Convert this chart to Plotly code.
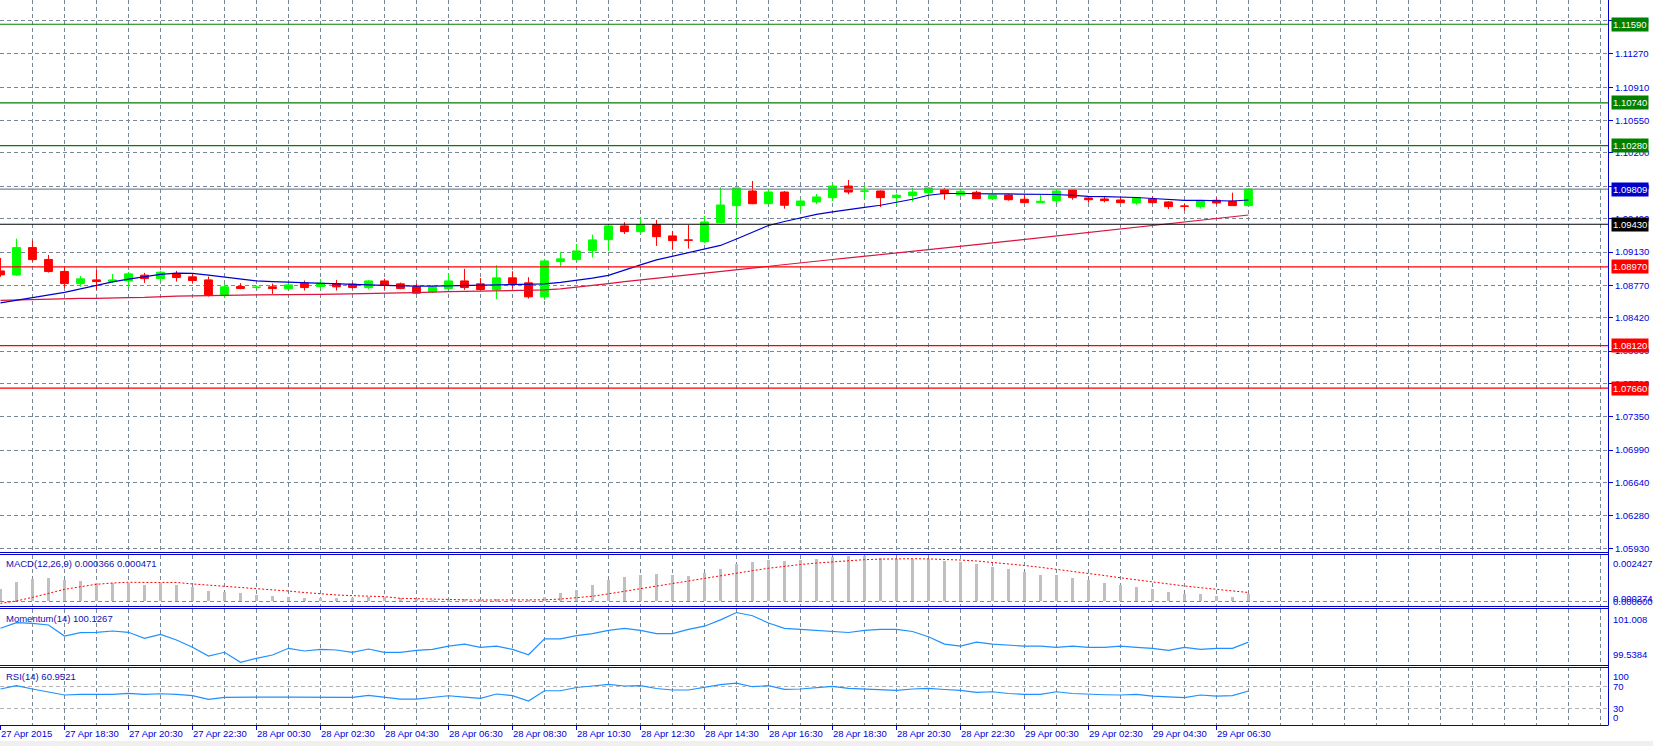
import plotly.graph_objects as go

# ---------------- data (EURUSD M30) ----------------
time_labels = ["27 Apr 2015", "27 Apr 18:30", "27 Apr 20:30", "27 Apr 22:30", "28 Apr 00:30",
               "28 Apr 02:30", "28 Apr 04:30", "28 Apr 06:30", "28 Apr 08:30", "28 Apr 10:30",
               "28 Apr 12:30", "28 Apr 14:30", "28 Apr 16:30", "28 Apr 18:30", "28 Apr 20:30",
               "28 Apr 22:30", "29 Apr 00:30", "29 Apr 02:30", "29 Apr 04:30", "29 Apr 06:30"]

open_ = [1.08926, 1.08883, 1.09178, 1.09050, 1.08920, 1.08789, 1.08829, 1.08811, 1.08818, 1.08880,
         1.08843, 1.08897, 1.08862, 1.08829, 1.08660, 1.08757, 1.08748, 1.08754, 1.08732, 1.08794,
         1.08757, 1.08789, 1.08783, 1.08746, 1.08818, 1.08786, 1.08754, 1.08700, 1.08735, 1.08818,
         1.08786, 1.08721, 1.08851, 1.08797, 1.08646, 1.09027, 1.09048, 1.09145, 1.09264, 1.09412,
         1.09350, 1.09426, 1.09304, 1.09261, 1.09242, 1.09446, 1.09631, 1.09789, 1.09652, 1.09778,
         1.09631, 1.09671, 1.09717, 1.09843, 1.09786, 1.09789, 1.09717, 1.09739, 1.09771, 1.09803,
         1.09746, 1.09775, 1.09706, 1.09746, 1.09700, 1.09663, 1.09685, 1.09800, 1.09714, 1.09703,
         1.09692, 1.09660, 1.09703, 1.09671, 1.09627, 1.09620, 1.09689, 1.09678, 1.09631]
high = [1.09066, 1.09275, 1.09253, 1.09099, 1.08962, 1.08872, 1.08937, 1.08894, 1.08915, 1.08905,
        1.08926, 1.08926, 1.08891, 1.08865, 1.08783, 1.08794, 1.08768, 1.08789, 1.08789, 1.08822,
        1.08840, 1.08829, 1.08800, 1.08829, 1.08843, 1.08800, 1.08786, 1.08772, 1.08894, 1.08948,
        1.08848, 1.08988, 1.08923, 1.08858, 1.09056, 1.09128, 1.09218, 1.09318, 1.09430, 1.09452,
        1.09498, 1.09476, 1.09358, 1.09422, 1.09520, 1.09829, 1.09825, 1.09897, 1.09800, 1.09789,
        1.09706, 1.09757, 1.09876, 1.09908, 1.09854, 1.09795, 1.09760, 1.09822, 1.09830, 1.09822,
        1.09803, 1.09792, 1.09750, 1.09754, 1.09749, 1.09749, 1.09808, 1.09803, 1.09732, 1.09725,
        1.09721, 1.09721, 1.09732, 1.09678, 1.09652, 1.09692, 1.09717, 1.09771, 1.09822]
low = [1.08862, 1.08872, 1.09027, 1.08908, 1.08740, 1.08757, 1.08721, 1.08794, 1.08754, 1.08797,
       1.08818, 1.08811, 1.08797, 1.08649, 1.08632, 1.08729, 1.08732, 1.08678, 1.08729, 1.08714,
       1.08732, 1.08714, 1.08735, 1.08729, 1.08729, 1.08729, 1.08678, 1.08686, 1.08721, 1.08721,
       1.08714, 1.08621, 1.08735, 1.08627, 1.08613, 1.08973, 1.09027, 1.09070, 1.09142, 1.09325,
       1.09325, 1.09196, 1.09153, 1.09167, 1.09225, 1.09446, 1.09441, 1.09646, 1.09646, 1.09598,
       1.09577, 1.09649, 1.09681, 1.09754, 1.09706, 1.09617, 1.09631, 1.09674, 1.09743, 1.09695,
       1.09739, 1.09703, 1.09692, 1.09685, 1.09660, 1.09663, 1.09657, 1.09695, 1.09663, 1.09667,
       1.09657, 1.09641, 1.09652, 1.09595, 1.09577, 1.09598, 1.09641, 1.09631, 1.09631]
close = [1.08883, 1.09178, 1.09048, 1.08919, 1.08789, 1.08840, 1.08811, 1.08829, 1.08894, 1.08843,
         1.08912, 1.08854, 1.08822, 1.08667, 1.08754, 1.08735, 1.08750, 1.08735, 1.08775, 1.08746,
         1.08794, 1.08754, 1.08746, 1.08818, 1.08772, 1.08735, 1.08686, 1.08750, 1.08818, 1.08746,
         1.08725, 1.08851, 1.08786, 1.08646, 1.09034, 1.09056, 1.09142, 1.09261, 1.09412, 1.09350,
         1.09426, 1.09296, 1.09253, 1.09257, 1.09455, 1.09638, 1.09822, 1.09652, 1.09778, 1.09635,
         1.09681, 1.09725, 1.09843, 1.09778, 1.09789, 1.09717, 1.09743, 1.09778, 1.09822, 1.09760,
         1.09786, 1.09706, 1.09746, 1.09695, 1.09663, 1.09678, 1.09789, 1.09717, 1.09695, 1.09685,
         1.09663, 1.09717, 1.09663, 1.09620, 1.09624, 1.09681, 1.09660, 1.09631, 1.09809]

ma_fast = [1.08581, 1.08608, 1.08640, 1.08667, 1.08694, 1.08732, 1.08770, 1.08808, 1.08837, 1.08867,
           1.08889, 1.08901, 1.08899, 1.08880, 1.08858, 1.08837, 1.08818, 1.08811, 1.08804, 1.08797,
           1.08789, 1.08786, 1.08783, 1.08775, 1.08770, 1.08764, 1.08761, 1.08761, 1.08764, 1.08768,
           1.08770, 1.08772, 1.08775, 1.08781, 1.08786, 1.08802, 1.08822, 1.08848, 1.08878, 1.08937,
           1.08991, 1.09045, 1.09083, 1.09126, 1.09164, 1.09201, 1.09271, 1.09347, 1.09417, 1.09460,
           1.09498, 1.09536, 1.09563, 1.09590, 1.09613, 1.09635, 1.09665, 1.09700, 1.09743, 1.09762,
           1.09762, 1.09757, 1.09757, 1.09757, 1.09757, 1.09754, 1.09751, 1.09741, 1.09730, 1.09728,
           1.09727, 1.09719, 1.09708, 1.09698, 1.09687, 1.09687, 1.09683, 1.09681, 1.09692]
ma_slow = [1.08608, 1.08613, 1.08619, 1.08624, 1.08630, 1.08630, 1.08630, 1.08630, 1.08638, 1.08640,
           1.08651, 1.08654, 1.08657, 1.08657, 1.08660, 1.08664, 1.08667, 1.08667, 1.08670, 1.08672,
           1.08673, 1.08676, 1.08678, 1.08678, 1.08680, 1.08689, 1.08692, 1.08700, 1.08703, 1.08705,
           1.08707, 1.08711, 1.08714, 1.08716, 1.08721, 1.08732, 1.08748, 1.08770, 1.08788, 1.08810,
           1.08829, 1.08848, 1.08866, 1.08884, 1.08903, 1.08921, 1.08939, 1.08958, 1.08976, 1.08994,
           1.09013, 1.09031, 1.09049, 1.09066, 1.09085, 1.09102, 1.09120, 1.09139, 1.09156, 1.09174,
           1.09192, 1.09210, 1.09228, 1.09247, 1.09265, 1.09283, 1.09302, 1.09320, 1.09338, 1.09358,
           1.09376, 1.09395, 1.09415, 1.09433, 1.09453, 1.09471, 1.09490, 1.09510, 1.09530]

macd_main = [0.00066, 0.00105, 0.00119, 0.00126, 0.00114, 0.00110, 0.00096, 0.00096, 0.00096, 0.00087,
             0.00096, 0.00087, 0.00078, 0.00055, 0.00051, 0.00043, 0.00034, 0.00030, 0.00025, 0.00019,
             0.00019, 0.00016, 0.00016, 0.00021, 0.00021, 0.00018, 0.00012, 0.00008, 0.00009, 0.00010,
             0.00006, 0.00010, 0.00010, 0.00002, 0.00025, 0.00042, 0.00062, 0.00085, 0.00112, 0.00128,
             0.00142, 0.00145, 0.00142, 0.00138, 0.00150, 0.00175, 0.00200, 0.00210, 0.00220, 0.00218,
             0.00220, 0.00224, 0.00235, 0.002427, 0.00240, 0.00232, 0.00226, 0.00224, 0.00226, 0.00218,
             0.00210, 0.00198, 0.00186, 0.00172, 0.00156, 0.00142, 0.00140, 0.00126, 0.00112, 0.00098,
             0.00085, 0.00078, 0.00066, 0.00052, 0.00040, 0.00037, 0.00030, 0.00022, 0.000366]
macd_signal = [-0.00011, 0.00002, 0.00021, 0.00043, 0.00064, 0.00078, 0.00091, 0.00098, 0.00102, 0.00101,
               0.00101, 0.00101, 0.00093, 0.00087, 0.00082, 0.00074, 0.00066, 0.00061, 0.00055, 0.00047,
               0.00039, 0.00034, 0.00030, 0.00027, 0.00025, 0.00016, 0.00013, 0.00011, 0.00009, 0.00008,
               0.00007, 0.00007, 0.00006, 0.00006, 0.00008, 0.00012, 0.00018, 0.00027, 0.00040, 0.00054,
               0.00068, 0.00083, 0.00097, 0.00110, 0.00123, 0.00136, 0.00150, 0.00164, 0.00177, 0.00188,
               0.00197, 0.00205, 0.00212, 0.00218, 0.00223, 0.00226, 0.00228, 0.00228, 0.00227, 0.00225,
               0.00221, 0.00216, 0.00209, 0.00201, 0.00192, 0.00182, 0.00172, 0.00162, 0.00150, 0.00138,
               0.00126, 0.00114, 0.00103, 0.00092, 0.00082, 0.00073, 0.00064, 0.00055, 0.000471]

momentum = [100.532, 100.695, 100.678, 100.628, 100.307, 100.403, 100.415, 100.453, 100.415, 100.240,
            100.356, 100.190, 99.977, 99.722, 99.831, 99.538, 99.655, 99.752, 99.947, 99.869,
            99.918, 99.898, 99.831, 99.927, 99.831, 99.831, 99.886, 99.915, 100.010, 100.070,
            99.977, 100.010, 99.915, 99.760, 100.225, 100.225, 100.316, 100.377, 100.470, 100.532,
            100.470, 100.377, 100.377, 100.500, 100.593, 100.777, 100.993, 100.900, 100.687, 100.532,
            100.500, 100.470, 100.438, 100.409, 100.470, 100.500, 100.500, 100.438, 100.286, 100.070,
            100.010, 100.130, 100.070, 100.040, 100.010, 100.010, 99.977, 100.010, 99.977, 99.977,
            100.010, 99.977, 99.947, 99.886, 99.977, 99.915, 99.947, 99.947, 100.1267]

rsi = [64.6, 70.5, 64.6, 59.7, 53.8, 55.1, 55.1, 55.1, 56.9, 55.1,
       56.1, 55.1, 52.6, 46.1, 49.7, 50.2, 50.2, 50.2, 50.2, 50.2,
       50.2, 50.2, 49.7, 53.3, 50.2, 46.6, 46.6, 50.2, 52.5, 50.2,
       47.9, 55.6, 52.6, 43.0, 61.5, 61.5, 67.3, 70.0, 73.0, 70.0,
       70.5, 65.5, 62.8, 62.8, 68.2, 72.6, 75.3, 68.7, 70.5, 64.0,
       64.6, 66.4, 69.4, 65.8, 64.6, 62.2, 62.2, 64.6, 65.8, 63.7,
       62.2, 58.7, 59.7, 56.5, 55.1, 55.1, 59.7, 56.5, 55.1, 54.3,
       53.8, 55.1, 52.0, 50.2, 49.0, 53.8, 52.0, 52.9, 60.95]

price_ticks = [1.11630, 1.11270, 1.10910, 1.10550, 1.10200, 1.09840, 1.09490, 1.09130, 1.08770,
               1.08420, 1.08060, 1.07710, 1.07350, 1.06990, 1.06640, 1.06280, 1.05930]

levels = [1.11590, 1.10740, 1.10280, 1.09809, 1.09430, 1.08970, 1.08120, 1.07660]
level_line_colors = ["#008000", "#008000", "#008000", "#7B8794", "#000000", "#FF0000", "#FF0000", "#FF0000"]
level_box_colors = ["#008000", "#008000", "#008000", "#0000CD", "#000000", "#FF0000", "#FF0000", "#FF0000"]

macd_title = "MACD(12,26,9) 0.000366 0.000471"
mom_title = "Momentum(14) 100.1267"
rsi_title = "RSI(14) 60.9521"
macd_axis_labels = [(0.002427, "0.002427", "top"), (-0.000274, "0.000274", "bottom"), (0.0, "0.000000", "middle")]
mom_axis_labels = [(101.008, "101.008", "top"), (99.5384, "99.5384", "bottom")]
rsi_axis_labels = [(100, "100", "top"), (70, "70", "middle"), (30, "30", "middle"), (0, "0", "bottom")]

# ---------------- layout geometry ----------------
W, H = 1653, 746
PW = 1608          # plot area width (px)
PB = 725           # plot area bottom (px)
BAR_PX = 16        # px per bar
FONT = "Liberation Sans"
TXT = "#0000E0"
FRAME = "#0000C8"
GRID = "#778899"
DASH = "4px,3px"


def py(px):
    return (PB - px) / PB


x0 = -0.03
xr = [x0, x0 + PW / BAR_PX]
idx = list(range(len(open_)))
major = [4 * k for k in range(len(time_labels))]
minor = [2 + 4 * k for k in range(len(time_labels))] + list(range(80, 101, 2))

fig = go.Figure()
fig.add_trace(go.Candlestick(
    x=idx, open=open_, high=high, low=low, close=close,
    increasing=dict(line=dict(color="#00FF00", width=1), fillcolor="#00FF00"),
    decreasing=dict(line=dict(color="#FF0000", width=1), fillcolor="#FF0000"),
    whiskerwidth=0, hoverinfo="skip", showlegend=False, xaxis="x", yaxis="y"))
fig.add_trace(go.Scatter(x=idx, y=ma_slow, mode="lines", line=dict(color="#DC143C", width=1.2),
                         hoverinfo="skip", showlegend=False, xaxis="x", yaxis="y"))
fig.add_trace(go.Scatter(x=idx, y=ma_fast, mode="lines", line=dict(color="#0000CD", width=1.2),
                         hoverinfo="skip", showlegend=False, xaxis="x", yaxis="y"))
fig.add_trace(go.Bar(x=idx, y=macd_main, width=0.14, marker=dict(color="#C0C0C0", line=dict(width=0)),
                     hoverinfo="skip", showlegend=False, xaxis="x2", yaxis="y2"))
fig.add_trace(go.Scatter(x=idx, y=macd_signal, mode="lines", line=dict(color="#FF0000", width=1, dash="2px,2px"),
                         hoverinfo="skip", showlegend=False, xaxis="x2", yaxis="y2"))
fig.add_trace(go.Scatter(x=idx, y=momentum, mode="lines", line=dict(color="#1E90FF", width=1.2),
                         hoverinfo="skip", showlegend=False, xaxis="x3", yaxis="y3"))
fig.add_trace(go.Scatter(x=idx, y=rsi, mode="lines", line=dict(color="#1E90FF", width=1.2),
                         hoverinfo="skip", showlegend=False, xaxis="x4", yaxis="y4"))


def xaxis(anchor, labels=False):
    d = dict(anchor=anchor, domain=[0, 1], range=xr, tickmode="array", tickvals=major,
             showgrid=True, gridcolor=GRID, griddash=DASH, gridwidth=1,
             zeroline=False, showline=False, fixedrange=True,
             minor=dict(tickmode="array", tickvals=minor, showgrid=True, gridcolor=GRID,
                        griddash=DASH, gridwidth=1, ticks=""),
             rangeslider=dict(visible=False))
    if labels:
        d.update(ticktext=time_labels, showticklabels=True, ticks="outside", ticklen=4,
                 tickcolor=FRAME, tickwidth=1, ticklabelposition="outside right",
                 tickfont=dict(family=FONT, size=9.5, color=TXT))
    else:
        d.update(showticklabels=False, ticks="")
    return d


y_main = [1.05890, 1.11852]
fig.update_layout(
    width=W, height=H, margin=dict(l=0, r=W - PW, t=0, b=H - PB),
    paper_bgcolor="white", plot_bgcolor="white", showlegend=False, hovermode=False,
    bargap=0,
    xaxis=xaxis("y"), xaxis2=xaxis("y2"), xaxis3=xaxis("y3"), xaxis4=xaxis("y4", True),
    yaxis=dict(domain=[py(552), 1], range=y_main, side="right", anchor="x",
               tickmode="array", tickvals=price_ticks, ticktext=[f"{v:.5f}" for v in price_ticks],
               ticks="outside", ticklen=4, tickcolor=FRAME, tickwidth=1,
               tickfont=dict(family=FONT, size=9.5, color=TXT),
               showgrid=True, gridcolor=GRID, griddash=DASH, gridwidth=1,
               zeroline=False, showline=False, fixedrange=True),
    yaxis2=dict(domain=[py(607), py(555)], range=[-0.000305, 0.00248], anchor="x2", side="right",
                tickmode="array", tickvals=[0], showticklabels=False, ticks="",
                showgrid=True, gridcolor=GRID, griddash=DASH, zeroline=False, showline=False),
    yaxis3=dict(domain=[py(665), py(609)], range=[99.4595, 101.0957], anchor="x3", side="right",
                showticklabels=False, ticks="", showgrid=False, zeroline=False, showline=False),
    yaxis4=dict(domain=[0, py(667)], range=[0, 104.1], anchor="x4", side="right",
                tickmode="array", tickvals=[30, 70], showticklabels=False, ticks="",
                showgrid=True, gridcolor="#B4B4B4", griddash=DASH, zeroline=False, showline=False),
)

shapes = []
# horizontal level lines
for lv, col in zip(levels, level_line_colors):
    shapes.append(dict(type="line", xref="paper", yref="y", x0=0, x1=1, y0=lv, y1=lv,
                       line=dict(color=col, width=1.2), layer="above"))
# panel frames (placed on half pixels so that they render crisp)
for ypx in [552, 554, 606, 608, 665, 667, 725]:
    yy = py(ypx + 0.5)
    shapes.append(dict(type="line", xref="paper", yref="paper", x0=0, x1=1, y0=yy, y1=yy,
                       line=dict(color=FRAME, width=1), layer="above"))
xv = (PW + 0.5) / PW
shapes.append(dict(type="line", xref="paper", yref="paper", x0=xv, x1=xv, y0=py(0), y1=py(725.5),
                   line=dict(color=FRAME, width=1), layer="above"))
# bottom status strip
shapes.append(dict(type="rect", xref="paper", yref="paper", x0=0, x1=W / PW, y0=py(741), y1=py(746),
                   fillcolor="#EFEFEF", line=dict(width=0), layer="above"))
fig.update_layout(shapes=shapes)

ann = []
# indicator titles
for text, ypx in [(macd_title, 563), (mom_title, 618), (rsi_title, 676)]:
    ann.append(dict(text=text, xref="paper", yref="paper", x=0, y=py(ypx), xanchor="left", yanchor="middle",
                    xshift=4, showarrow=False, font=dict(family=FONT, size=9.5, color="#1010B0")))
# indicator axis labels
for yref, items in [("y2", macd_axis_labels), ("y3", mom_axis_labels), ("y4", rsi_axis_labels)]:
    for val, text, anc in items:
        ann.append(dict(text=text, xref="paper", yref=yref, x=1, y=val, xanchor="left", yanchor=anc,
                        xshift=3, showarrow=False, font=dict(family=FONT, size=9.5, color=TXT)))
# level price boxes
for lv, col in zip(levels, level_box_colors):
    ann.append(dict(text=f"{lv:.5f}", xref="paper", yref="y", x=1, y=lv, xanchor="left", yanchor="middle",
                    xshift=3, showarrow=False, bgcolor=col, borderpad=1,
                    font=dict(family=FONT, size=9.5, color="white")))
fig.update_layout(annotations=ann)

fig.write_html("out.html")
